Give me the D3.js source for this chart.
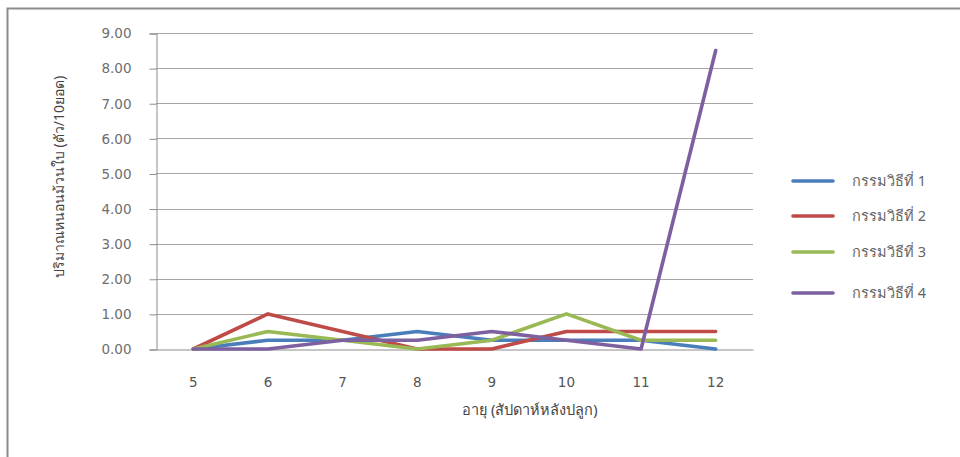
<!DOCTYPE html>
<html>
<head>
<meta charset="utf-8">
<script src="https://cdn.jsdelivr.net/npm/d3@7/dist/d3.min.js"></script>
<style>
  html, body { margin: 0; padding: 0; background: #fff; }
  svg { display: block; font-family: Tahoma, "Noto Sans", "DejaVu Sans", sans-serif; }
</style>
</head>
<body>
<svg id="chart" width="960" height="457"></svg>
<script>
// Weeks after planting
const weeks = [5, 6, 7, 8, 9, 10, 11, 12];
// Leaf-roller counts (per 10 shoots) for each method
const method1 = [0, 0.25, 0.25, 0.5, 0.25, 0.25, 0.25, 0];
const method2 = [0, 1.0, 0.5, 0, 0, 0.5, 0.5, 0.5];
const method3 = [0, 0.5, 0.25, 0, 0.25, 1.0, 0.25, 0.25];
const method4 = [0, 0, 0.25, 0.25, 0.5, 0.25, 0, 8.5];
const seriesNames = ["กรรมวิธีที่ 1", "กรรมวิธีที่ 2", "กรรมวิธีที่ 3", "กรรมวิธีที่ 4"];
const seriesColors = ["#4A7EBB", "#BE4B48", "#98B954", "#7D60A0"];
const yTicks = [0, 1, 2, 3, 4, 5, 6, 7, 8, 9];
const yTitle = "ปริมาณหนอนม้วนใบ (ตัว/10ยอด)";
const xTitle = "อายุ (สัปดาห์หลังปลูก)";

const series = [method1, method2, method3, method4].map((v, i) => ({
  name: seriesNames[i], color: seriesColors[i], values: v
}));

const svg = d3.select("#chart");

// Outer frame (top and left edges)
svg.append("path")
  .attr("d", "M7.5,457 V8.5 H960")
  .attr("fill", "none")
  .attr("stroke", "#8c8c8c")
  .attr("stroke-width", 2);

const plot = { left: 156, right: 753, top: 33, bottom: 349 };

const x = d3.scaleBand().domain(weeks).range([plot.left, plot.right]);
const y = d3.scaleLinear().domain([0, 9]).range([plot.bottom, plot.top]);

// Gridlines
svg.append("g")
  .selectAll("line")
  .data(yTicks.filter(t => t > 0))
  .join("line")
  .attr("x1", plot.left).attr("x2", plot.right)
  .attr("y1", d => Math.round(y(d)) + 0.5).attr("y2", d => Math.round(y(d)) + 0.5)
  .attr("stroke", "#a6a6a6").attr("stroke-width", 1);

// Y axis
const yAxis = svg.append("g")
  .attr("transform", `translate(${plot.left + 0.5},0.5)`)
  .call(d3.axisLeft(y).tickValues(yTicks).tickFormat(d3.format(".2f")).tickSize(7).tickPadding(18));
yAxis.select(".domain").attr("stroke", "#8c8c8c");
yAxis.selectAll(".tick line").attr("stroke", "#8c8c8c");
yAxis.selectAll(".tick text").attr("fill", "#6e6e6e")
  .attr("font-family", "'DejaVu Sans', sans-serif").attr("font-size", 13.5);

// X axis
const xAxis = svg.append("g")
  .attr("transform", `translate(0,${plot.bottom + 0.5})`)
  .call(d3.axisBottom(x).tickSize(0).tickPadding(28));
xAxis.select(".domain").attr("stroke", "#8c8c8c");
xAxis.selectAll(".tick text").attr("fill", "#555")
  .attr("font-family", "'DejaVu Sans', sans-serif").attr("font-size", 13.5);

// Lines
const line = d3.line()
  .x((d, i) => x(weeks[i]) + x.bandwidth() / 2)
  .y(d => y(d));

svg.append("g")
  .selectAll("path")
  .data(series)
  .join("path")
  .attr("d", d => line(d.values))
  .attr("fill", "none")
  .attr("stroke", d => d.color)
  .attr("stroke-width", 3.6)
  .attr("stroke-linejoin", "round")
  .attr("stroke-linecap", "round");

// Axis titles
svg.append("text")
  .attr("transform", "translate(64,177) rotate(-90)")
  .attr("text-anchor", "middle")
  .attr("fill", "#444")
  .attr("font-size", 14)
  .text(yTitle);

svg.append("text")
  .attr("x", 530).attr("y", 415)
  .attr("text-anchor", "middle")
  .attr("fill", "#444")
  .attr("font-size", 14.5)
  .text(xTitle);

// Legend
const legendY = [181, 216, 252, 293];
const legend = svg.append("g")
  .selectAll("g")
  .data(series)
  .join("g")
  .attr("transform", (d, i) => `translate(793,${legendY[i]})`);
legend.append("line")
  .attr("x1", 0).attr("x2", 40)
  .attr("stroke", d => d.color)
  .attr("stroke-width", 3.6)
  .attr("stroke-linecap", "round");
legend.append("text")
  .attr("x", 59).attr("dy", "0.35em")
  .attr("fill", "#666")
  .attr("font-size", 14.5)
  .text(d => d.name);
</script>
</body>
</html>
